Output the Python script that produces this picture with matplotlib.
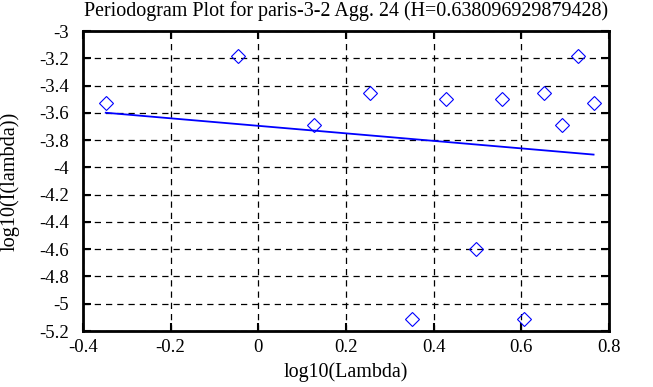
import matplotlib
matplotlib.use("Agg")
import matplotlib.pyplot as plt

# periodogram points
log_lambda = [-0.348, -0.047, 0.128, 0.254, 0.350, 0.429, 0.496,
              0.555, 0.606, 0.653, 0.692, 0.730, 0.765]
log_I = [-3.524, -3.183, -3.688, -3.452, -5.113, -3.500, -4.600,
         -3.500, -5.110, -3.457, -3.688, -3.183, -3.524]

# fitted line (endpoints)
fit_x = [-0.348, 0.765]
fit_y = [-3.599, -3.906]

title = "Periodogram Plot for paris-3-2 Agg. 24 (H=0.638096929879428)"
xticks = [-0.4, -0.2, 0, 0.2, 0.4, 0.6, 0.8]
yticks = [-3, -3.2, -3.4, -3.6, -3.8, -4, -4.2, -4.4, -4.6, -4.8, -5, -5.2]

plt.rcParams['font.family'] = ['Liberation Serif', 'DejaVu Serif']
plt.rcParams['axes.unicode_minus'] = False

fig = plt.figure(figsize=(6.53, 3.87), dpi=100)
ax = fig.add_axes([0.127, 0.1447, 0.8055, 0.775])

ax.plot(log_lambda, log_I, linestyle='none', marker='D', markersize=7.5,
        markerfacecolor='none', markeredgecolor='blue', markeredgewidth=0.8)
ax.plot(fit_x, fit_y, color='blue', linewidth=1.3)

ax.set_xlim(-0.4, 0.8)
ax.set_ylim(-5.2, -3)
ax.set_xticks(xticks)
ax.set_xticklabels([f"{v:g}" for v in xticks])
ax.set_yticks(yticks)
ax.set_yticklabels([f"{v:g}" for v in yticks])

ax.grid(True, color='black', linestyle=(0, (5, 4)), linewidth=0.9)
ax.tick_params(direction='in', length=6, width=1.5, top=True, right=True,
               labelsize=13.5)
ax.tick_params(axis='y', pad=10)
ax.tick_params(axis='x', pad=6)
for s in ax.spines.values():
    s.set_linewidth(2)

ax.set_title(title, fontsize=14.4, pad=11)
ax.set_xlabel("log10(Lambda)", fontsize=14.4, va='center')
ax.set_ylabel("log10(I(lambda))", fontsize=14.6, va='center')
ax.xaxis.set_label_coords(0.5, -0.137)
ax.yaxis.set_label_coords(-0.139, 0.5)

fig.savefig("out.png", dpi=100)
